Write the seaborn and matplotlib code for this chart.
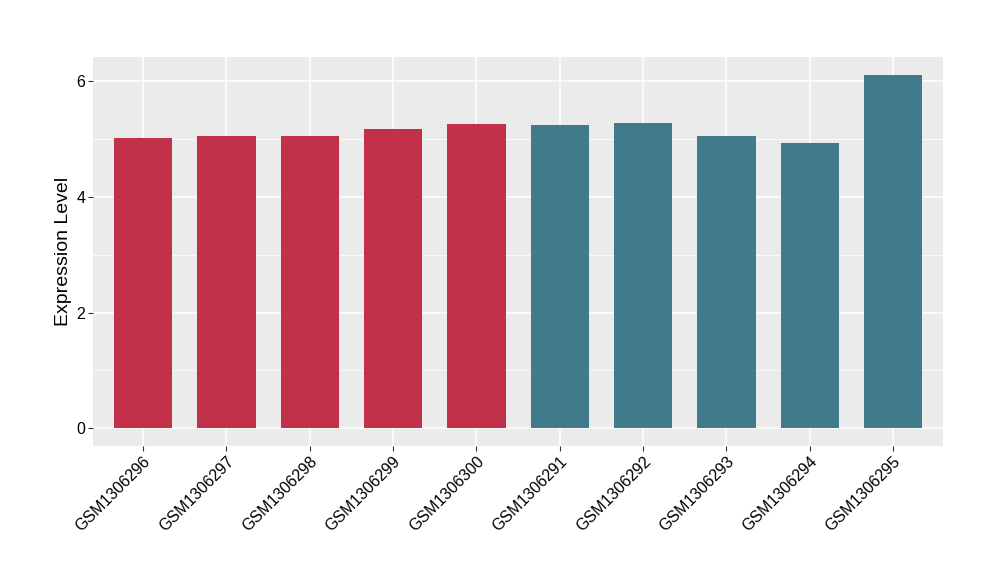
import pandas as pd
import numpy as np
import matplotlib
matplotlib.use('Agg')
import matplotlib.pyplot as plt
import seaborn as sns

# sample names, values and groups
samples = ['GSM1306296', 'GSM1306297', 'GSM1306298', 'GSM1306299', 'GSM1306300',
           'GSM1306291', 'GSM1306292', 'GSM1306293', 'GSM1306294', 'GSM1306295']
expression = [5.02, 5.04, 5.04, 5.17, 5.26, 5.23, 5.28, 5.04, 4.92, 6.11]
groups = ['A'] * 5 + ['B'] * 5
group_colors = {'A': '#C3304A', 'B': '#417A8B'}

df = pd.DataFrame({'sample': samples, 'value': expression, 'group': groups})

sns.set_style('darkgrid', {'axes.facecolor': '#EBEBEB', 'grid.color': 'white'})
plt.rcParams['font.family'] = ['Liberation Sans', 'DejaVu Sans']

fig = plt.figure(figsize=(10, 5.8), dpi=100)
ax = fig.add_axes([0.093, 0.231, 0.85, 0.671])

sns.barplot(data=df, x='sample', y='value', hue='group', palette=group_colors,
            width=0.7, dodge=False, legend=False, saturation=1, linewidth=0,
            edgecolor='none', ax=ax)

ymax = max(expression)
pad = ymax * 0.05
ax.set_xlim(-0.6, len(samples) - 0.4)
ax.set_ylim(-pad, ymax + pad)
ax.set_yticks([0, 2, 4, 6])
ax.set_yticks([1, 3, 5], minor=True)
ax.grid(True, which='major', color='white', linewidth=1.1)
ax.grid(True, which='minor', axis='y', color='white', linewidth=0.55)
ax.set_axisbelow(True)
for s in ax.spines.values():
    s.set_visible(False)

ax.tick_params(axis='both', which='major', bottom=True, left=True, length=3.5,
               width=0.8, color='#333333', labelsize=11.5, labelcolor='black', pad=2)
ax.tick_params(axis='y', which='minor', left=False, length=0)
plt.setp(ax.get_xticklabels(), rotation=45, ha='right', rotation_mode='anchor')

ax.set_xlabel('')
ax.set_ylabel('Expression Level', fontsize=14, color='black')
ax.yaxis.set_label_coords(-0.025, 0.5)

fig.savefig('out.png', dpi=100)
